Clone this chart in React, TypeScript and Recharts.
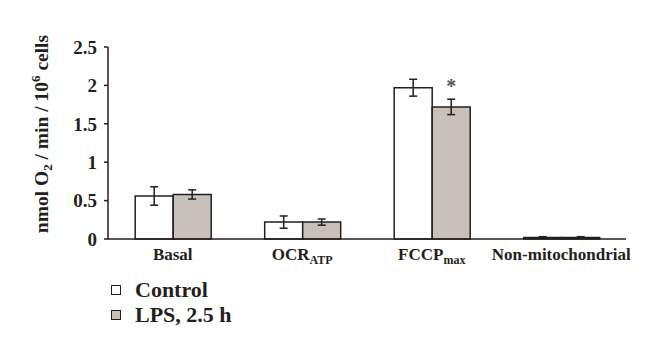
import { Bar, BarChart, ErrorBar, LabelList, XAxis, YAxis } from "recharts";

const categories = ["Basal", "OCR", "FCCP", "Non-mitochondrial"];
const subscripts = ["", "ATP", "max", ""];
const control = [0.56, 0.22, 1.97, 0.02];
const controlErr = [0.12, 0.08, 0.11, 0.01];
const lps = [0.58, 0.22, 1.72, 0.02];
const lpsErr = [0.06, 0.04, 0.1, 0.01];
const significance = ["", "", "*", ""];
const yTicks = [0, 0.5, 1, 1.5, 2, 2.5];
const seriesNames = ["Control", "LPS, 2.5 h"];
const seriesFills = ["#ffffff", "#c9c0ba"];

const data = categories.map((c, i) => ({
  name: c,
  sub: subscripts[i],
  control: control[i],
  controlErr: controlErr[i],
  lps: lps[i],
  lpsErr: lpsErr[i],
  sig: significance[i],
}));

const FONT = "'Liberation Serif', 'Times New Roman', serif";
const INK = "#231f20";

function CategoryTick(props: any) {
  const { x, y, index } = props;
  const sub = subscripts[index];
  return (
    <text x={x} y={y + 21} textAnchor="middle" fontFamily={FONT} fontWeight="bold" fontSize={17} fill={INK}>
      {categories[index]}
      {sub && (
        <tspan fontSize={12} dy={4}>
          {sub}
        </tspan>
      )}
    </text>
  );
}

function YTitle() {
  return (
    <text
      transform="translate(48,134) rotate(-90)"
      textAnchor="middle"
      fontFamily={FONT}
      fontWeight="bold"
      fontSize={19.5}
      fill={INK}
    >
      nmol O<tspan fontSize={13} dy={4}>2</tspan>
      <tspan dy={-4}> / min / 10</tspan>
      <tspan fontSize={13} dy={-8}>6</tspan>
      <tspan dy={8}> cells</tspan>
    </text>
  );
}

export default function App() {
  return (
    <div style={{ position: "absolute", left: 0, top: 0, width: 660, height: 358, background: "#fff" }}>
      <BarChart
        width={660}
        height={358}
        data={data}
        margin={{ top: 47, right: 34, bottom: 89, left: 0 }}
        barCategoryGap="21%"
        barGap={0}
      >
        <XAxis
          dataKey="name"
          height={30}
          tickLine={false}
          tickSize={0}
          tickMargin={0}
          axisLine={{ stroke: INK, strokeWidth: 1.5 }}
          tick={<CategoryTick />}
          interval={0}
        />
        <YAxis
          width={108}
          domain={[0, 2.5]}
          ticks={yTicks}
          tickSize={4}
          tickMargin={7}
          axisLine={{ stroke: INK, strokeWidth: 1.5 }}
          tickLine={{ stroke: INK, strokeWidth: 1.5 }}
          tick={{ fontFamily: FONT, fontWeight: "bold", fontSize: 19, fill: INK }}
          label={<YTitle />}
        />
        <Bar dataKey="control" fill={seriesFills[0]} stroke={INK} strokeWidth={1.5} isAnimationActive={false}>
          <ErrorBar dataKey="controlErr" width={4} stroke={INK} strokeWidth={1.5} />
        </Bar>
        <Bar dataKey="lps" fill={seriesFills[1]} stroke={INK} strokeWidth={1.5} isAnimationActive={false}>
          <ErrorBar dataKey="lpsErr" width={4} stroke={INK} strokeWidth={1.5} />
          <LabelList
            dataKey="sig"
            position="top"
            offset={14}
            fontFamily={FONT}
            fontWeight="bold"
            fontSize={20}
            fill="#555"
          />
        </Bar>
      </BarChart>
      {seriesNames.map((n, i) => (
        <div
          key={n}
          style={{
            position: "absolute",
            left: 111,
            top: 277 + i * 25,
            height: 25,
            display: "flex",
            alignItems: "center",
            fontFamily: FONT,
            fontWeight: "bold",
            fontSize: 22,
            color: INK,
            whiteSpace: "nowrap",
          }}
        >
          <span
            style={{
              display: "inline-block",
              width: 8,
              height: 8,
              border: `1.5px solid ${INK}`,
              background: seriesFills[i],
              marginRight: 14,
            }}
          />
          {n}
        </div>
      ))}
    </div>
  );
}
